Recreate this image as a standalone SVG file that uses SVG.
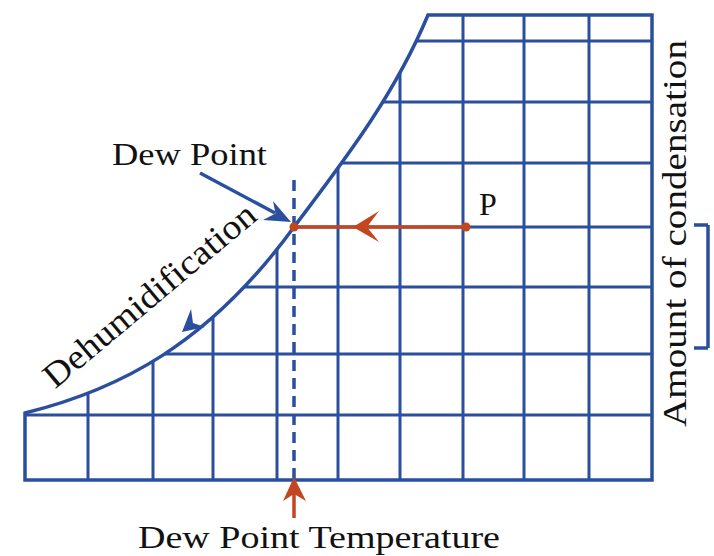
<svg xmlns="http://www.w3.org/2000/svg" width="714" height="556" viewBox="0 0 714 556">
<style>
.g{stroke:#2a4f9e;stroke-width:3;fill:none}
.b{stroke:#2a4f9e;stroke-width:3.5;fill:none}
.r{stroke:#c2461f;stroke-width:3.5;fill:none}
.t{font-family:'Liberation Serif',Tinos,'Times New Roman',Times,'Nimbus Roman',serif;fill:#111}
</style>
<defs>
<path id="shape" d="M25,413 C118,390 208,345 294,227 C339,167 393,99 428,15 L652,15 L652,480 L25,480 Z"/>
<clipPath id="clip"><use href="#shape"/></clipPath>
</defs>
<rect width="714" height="556" fill="#fff"/>
<g id="grid">
<g clip-path="url(#clip)" class="g">
<path d="M88,0V556M153,0V556M213,0V556M277,0V556M338,0V556M400,0V556M463,0V556M524,0V556M589,0V556"/>
<path d="M0,41H714M0,102H714M0,163H714M0,227H714M0,287H714M0,354H714M0,415H714"/>
</g>
<use href="#shape" class="b"/>
</g>
<g id="connectors">
<line x1="294" y1="180" x2="294" y2="480" class="b" stroke-dasharray="11 7"/>
<line x1="294" y1="227" x2="466" y2="227" class="r"/>
<polygon points="353,227 379,211 367,227 379,242" fill="#c2461f"/>
<circle cx="294" cy="227" r="4.5" fill="#c2461f"/>
<circle cx="466" cy="227" r="4.5" fill="#c2461f"/>
<line x1="294" y1="518" x2="294" y2="494" class="r"/>
<polygon points="294,477 306,501 294,494 283,501" fill="#c2461f"/>
<line x1="200" y1="173" x2="275" y2="213" class="b"/>
<polygon points="291,222 263,220 275.5,213.5 273,201" fill="#2a4f9e"/>
<polygon points="182,332 205,327 193,323 191,309" fill="#2a4f9e"/>
<path d="M708,225V348M694,225H708M694,348H708" class="b"/>
</g>
<g id="labels">
<text class="t" font-family="'Liberation Serif',serif" x="112" y="165" font-size="31" textLength="155" lengthAdjust="spacingAndGlyphs">Dew Point</text>
<text class="t" font-family="'Liberation Serif',serif" x="479" y="215" font-size="32">P</text>
<text class="t" font-family="'Liberation Serif',serif" x="138" y="548" font-size="32" textLength="362" lengthAdjust="spacingAndGlyphs">Dew Point Temperature</text>
<text class="t" font-family="'Liberation Serif',serif" transform="translate(686,427) rotate(-90)" font-size="34" textLength="387" lengthAdjust="spacingAndGlyphs">Amount of condensation</text>
<text class="t" font-family="'Liberation Serif',serif" transform="translate(157,304) rotate(-40)" font-size="35" text-anchor="middle" textLength="266" lengthAdjust="spacingAndGlyphs">Dehumidification</text>
</g>
</svg>
